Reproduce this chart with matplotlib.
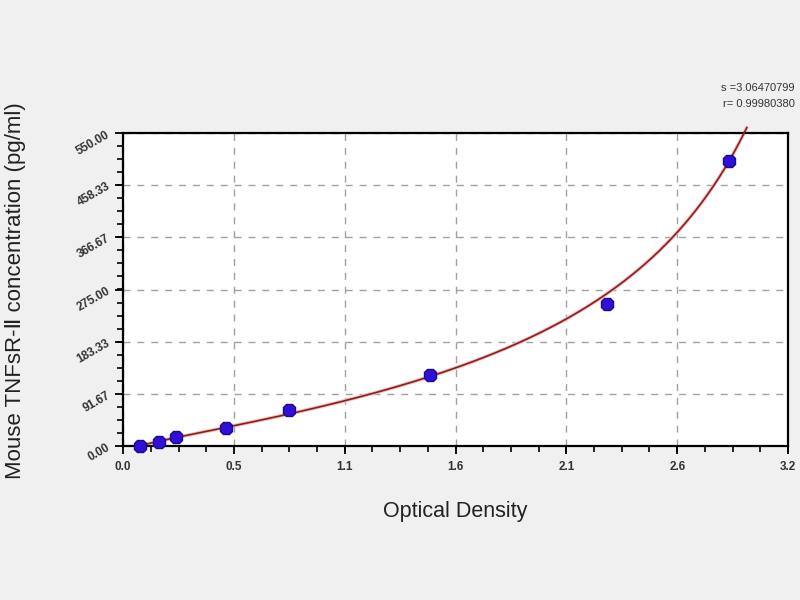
import numpy as np
import matplotlib
matplotlib.use("Agg")
import matplotlib.pyplot as plt
from matplotlib.ticker import AutoMinorLocator, FixedLocator, FixedFormatter

# standard curve points
optical_density = [0.082, 0.170, 0.255, 0.496, 0.797, 1.477, 2.328, 2.918]
concentration = [0.0, 7.8, 15.6, 31.25, 62.5, 125.0, 250.0, 500.0]

x_ticks = [0.0, 0.5333, 1.0667, 1.6, 2.1333, 2.6667, 3.2]
x_tick_labels = ["0.0", "0.5", "1.1", "1.6", "2.1", "2.6", "3.2"]
y_ticks = [0.0, 91.67, 183.33, 275.0, 366.67, 458.33, 550.0]
y_tick_labels = ["0.00", "91.67", "183.33", "275.00", "366.67", "458.33", "550.00"]

fit_s = "3.06470799"
fit_r = "0.99980380"


def fit_4pl(od, conc):
    """4PL (OD vs conc), bottom fixed at the blank; grid over top, linear fit for slope,
    pick the top that gives the smallest concentration residual."""
    od = np.asarray(od)
    conc = np.asarray(conc)
    a = od[conc == 0][0]
    m = conc > 0
    lx = np.log(conc[m])
    best = None
    for d in np.linspace(od.max() + 0.02, 8.0, 2000):
        z = np.log((a - d) / (od[m] - d) - 1.0)
        b, k = np.polyfit(lx, z, 1)
        pred = np.exp((z - k) / b)
        err = np.sum((pred - conc[m]) ** 2)
        if best is None or err < best[0]:
            best = (err, a, d, b, k)
    return best[1:]


a, d, b, k = fit_4pl(optical_density, concentration)
xs = np.linspace(a + 1e-6, d - 1e-3, 3000)
ys = np.exp((np.log((a - d) / (xs - d) - 1.0) - k) / b)
keep = ys <= 560
xs = np.concatenate([[a], xs[keep]])
ys = np.concatenate([[0.0], ys[keep]])

plt.rcParams["font.family"] = ["Liberation Sans", "DejaVu Sans"]

fig = plt.figure(figsize=(8, 6), dpi=100, facecolor="#f0f0f0")
ax = fig.add_axes([0.154, 0.2567, 0.831, 0.5216])
ax.set_facecolor("white")

ax.plot(xs, ys, color="#f0c0c0", lw=2.6, clip_on=False, zorder=2)
ax.plot(xs, ys, color="#8e1c1c", lw=1.2, clip_on=False, zorder=3)

ax.plot(optical_density, concentration, linestyle="none", marker="8",
        markersize=10, markerfacecolor="#2f10d8", markeredgecolor="#1c0a8a",
        markeredgewidth=1.0, zorder=4, clip_on=False)

ax.set_xlim(0, 3.2)
ax.set_ylim(0, 550)
ax.xaxis.set_major_locator(FixedLocator(x_ticks))
ax.xaxis.set_major_formatter(FixedFormatter(x_tick_labels))
ax.yaxis.set_major_locator(FixedLocator(y_ticks))
ax.yaxis.set_major_formatter(FixedFormatter(y_tick_labels))
ax.xaxis.set_minor_locator(AutoMinorLocator(4))
ax.yaxis.set_minor_locator(AutoMinorLocator(4))

ax.grid(True, which="major", color="#a0a0a0", linestyle=(0, (5, 5)), linewidth=1.0)
ax.set_axisbelow(True)

for sp in ax.spines.values():
    sp.set_linewidth(1.6)
    sp.set_color("black")

ax.tick_params(which="major", direction="out", length=6, width=1.3, color="black",
               labelsize=8.5, labelcolor="#333333")
ax.tick_params(which="minor", direction="out", length=4, width=1.2, color="black")
ax.tick_params(axis="y", which="major", labelrotation=30, pad=2)
ax.tick_params(axis="x", which="major", pad=5)
for lab in ax.get_yticklabels():
    lab.set_fontweight("bold")
for lab in ax.get_xticklabels():
    lab.set_fontweight("bold")

ax.set_xlabel("Optical Density", fontsize=15.5, color="#222222", labelpad=20)
fig.text(0.02, 0.515, "Mouse TNFsR-\u2161 concentration (pg/ml)", rotation=90,
         ha="center", va="center", fontsize=16, color="#222222",
         family=["Liberation Sans", "DejaVu Sans"])

fig.text(0.993, 0.853, "s =" + fit_s, ha="right", va="center", fontsize=8, color="#333333")
fig.text(0.993, 0.827, "r= " + fit_r, ha="right", va="center", fontsize=8, color="#333333")

fig.savefig("out.png", dpi=100, facecolor=fig.get_facecolor())
